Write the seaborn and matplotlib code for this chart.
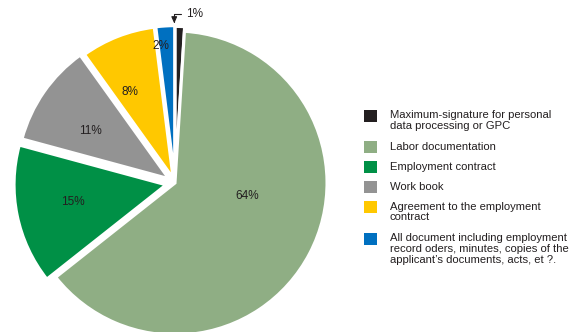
import numpy as np
import matplotlib
matplotlib.use("Agg")
import matplotlib.pyplot as plt
from matplotlib.patches import Rectangle
import seaborn as sns

categories = [
    "Maximum-signature for personal\ndata processing or GPC",
    "Labor documentation",
    "Employment contract",
    "Work book",
    "Agreement to the employment\ncontract",
    "All document including employment\nrecord oders, minutes, copies of the\napplicant\u2019s documents, acts, et ?.",
]
shares = [1, 64, 15, 11, 8, 2]
pct_labels = ["1%", "64%", "15%", "11%", "8%", "2%"]
colors = ["#231f20", "#8fae84", "#009046", "#939393", "#ffc800", "#0070c0"]

sns.set_theme(style="white")
plt.rcParams["font.family"] = ["Liberation Sans", "DejaVu Sans"]
TEXT = "#231f20"

W, H = 576, 332
fig = plt.figure(figsize=(W / 100, H / 100), dpi=100)

# pie centre and radius in pixels; axes spans +/-1.2 radii
cx, cy, rad = 175, 183, 152
span = 1.2 * rad
ax = fig.add_axes([(cx - span) / W, (H - cy - span) / H, 2 * span / W, 2 * span / H])

palette = sns.color_palette(colors)
wedges, _ = ax.pie(
    shares,
    colors=palette,
    startangle=90,
    counterclock=False,
    radius=1.0,
    explode=[0.03, 0, 0.06, 0.05, 0.035, 0.035],
    wedgeprops=dict(edgecolor="white", linewidth=2.2),
)
ax.set_xlim(-1.2, 1.2)
ax.set_ylim(-1.2, 1.2)
ax.set_aspect("equal")
ax.axis("off")

# percentage labels: radius from centre and angular nudge (degrees)
label_r = [None, 0.48, 0.68, 0.66, 0.68, 0.92]
label_dang = [0, 19, -2, 2, 4.5, 2.2]
for w, txt, r, da in zip(wedges, pct_labels, label_r, label_dang):
    if r is None:
        continue
    ang = np.deg2rad((w.theta1 + w.theta2) / 2 + da)
    ax.text(r * np.cos(ang), r * np.sin(ang) - 0.013, txt, ha="center",
            va="center", fontsize=8.5, color=TEXT)

# callout for the thin first wedge
ax.annotate(
    pct_labels[0],
    xy=(-0.005, 1.05),
    xytext=(0.07, 1.11),
    ha="left", va="center", fontsize=8.5, color=TEXT,
    annotation_clip=False,
    arrowprops=dict(arrowstyle="-|>,head_length=0.45,head_width=0.2",
                    color=TEXT, lw=0.8,
                    connectionstyle="angle,angleA=0,angleB=90,rad=0",
                    shrinkA=1, shrinkB=0),
)

# legend: square aligned with the first line of each entry
line_h, gap = 11.5, 8.5
y = 115
for c, lab in zip(palette, categories):
    fig.patches.append(Rectangle((364 / W, 1 - (y + 6.5) / H), 13 / W, 12 / H,
                                 transform=fig.transFigure, facecolor=c,
                                 edgecolor="none"))
    fig.text(390 / W, 1 - (y - 5) / H, lab, ha="left", va="top",
             fontsize=8.1, color=TEXT, linespacing=1.12)
    n = lab.count("\n") + 1
    y += n * line_h + gap

fig.savefig("out.png", dpi=100)
